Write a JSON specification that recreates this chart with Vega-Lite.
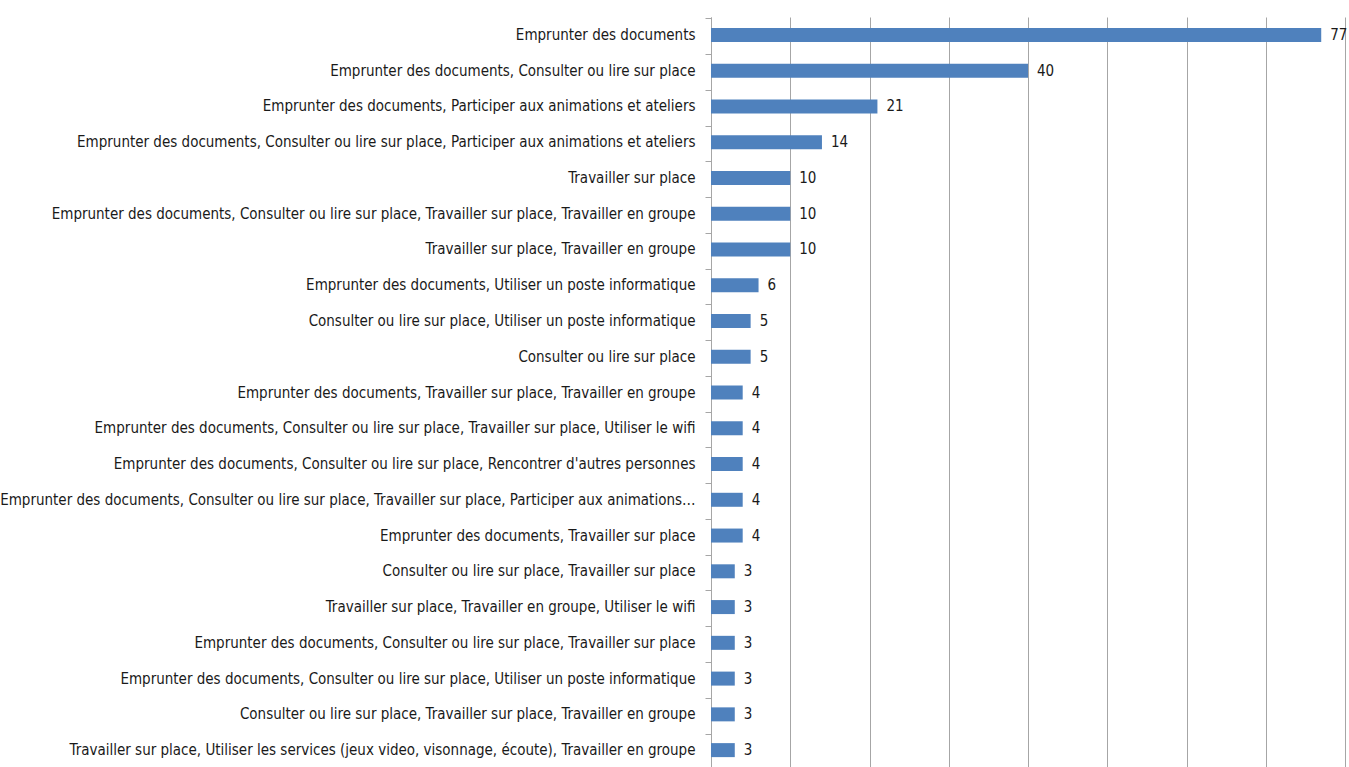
{
  "$schema": "https://vega.github.io/schema/vega-lite/v6.json",
  "autosize": {"type": "none"},
  "width": 634,
  "height": 751,
  "padding": {"left": 711, "top": 17, "right": 4, "bottom": 0},
  "background": "white",
  "config": {"view": {"stroke": null}},
  "data": {"values": [
    {"cat": "Emprunter des documents", "n": 77},
    {"cat": "Emprunter des documents, Consulter ou lire sur place", "n": 40},
    {"cat": "Emprunter des documents, Participer aux animations et ateliers", "n": 21},
    {"cat": "Emprunter des documents, Consulter ou lire sur place, Participer aux animations et ateliers", "n": 14},
    {"cat": "Travailler sur place", "n": 10},
    {"cat": "Emprunter des documents, Consulter ou lire sur place, Travailler sur place, Travailler en groupe", "n": 10},
    {"cat": "Travailler sur place, Travailler en groupe", "n": 10},
    {"cat": "Emprunter des documents, Utiliser un poste informatique", "n": 6},
    {"cat": "Consulter ou lire sur place, Utiliser un poste informatique", "n": 5},
    {"cat": "Consulter ou lire sur place", "n": 5},
    {"cat": "Emprunter des documents, Travailler sur place, Travailler en groupe", "n": 4},
    {"cat": "Emprunter des documents, Consulter ou lire sur place, Travailler sur place, Utiliser le wifi", "n": 4},
    {"cat": "Emprunter des documents, Consulter ou lire sur place, Rencontrer d'autres personnes", "n": 4},
    {"cat": "Emprunter des documents, Consulter ou lire sur place, Travailler sur place, Participer aux animations…", "n": 4},
    {"cat": "Emprunter des documents, Travailler sur place", "n": 4},
    {"cat": "Consulter ou lire sur place, Travailler sur place", "n": 3},
    {"cat": "Travailler sur place, Travailler en groupe, Utiliser le wifi", "n": 3},
    {"cat": "Emprunter des documents, Consulter ou lire sur place, Travailler sur place", "n": 3},
    {"cat": "Emprunter des documents, Consulter ou lire sur place, Utiliser un poste informatique", "n": 3},
    {"cat": "Consulter ou lire sur place, Travailler sur place, Travailler en groupe", "n": 3},
    {"cat": "Travailler sur place, Utiliser les services (jeux video, visonnage, écoute), Travailler en groupe", "n": 3}
  ]},
  "layer": [
    {
      "mark": {"type": "bar", "color": "#4F81BD", "size": 14},
      "encoding": {
        "y": {"field": "cat", "type": "nominal", "sort": null, "title": null,
          "axis": {"labelFont": "DejaVu Sans Condensed", "labelFontSize": 15, "labelColor": "#1a1a1a",
            "labelLimit": 720, "labelPadding": 16, "ticks": false, "domain": true, "domainColor": "#a6a6a6", "domainWidth": 1}},
        "x": {"field": "n", "type": "quantitative", "scale": {"domain": [0, 80], "nice": false}, "title": null,
          "axis": {"labels": false, "ticks": false, "domain": false, "values": [0,10,20,30,40,50,60,70,80], "grid": true, "gridColor": "#a6a6a6", "gridWidth": 1}}
      }
    },
    {
      "mark": {"type": "text", "align": "left", "baseline": "middle", "dx": 9, "font": "DejaVu Sans Condensed", "fontSize": 15, "color": "#1a1a1a"},
      "encoding": {
        "y": {"field": "cat", "type": "nominal", "sort": null, "title": null,
          "axis": {"orient": "left", "labels": false, "ticks": true, "tickSize": 6, "tickColor": "#a6a6a6", "bandPosition": 0, "domain": false}},
        "x": {"field": "n", "type": "quantitative", "title": null,
          "axis": {"labels": false, "ticks": false, "domain": false, "values": [0,10,20,30,40,50,60,70,80], "grid": true, "gridColor": "#a6a6a6", "gridWidth": 1}},
        "text": {"field": "n", "type": "quantitative"}
      }
    }
  ],
  "resolve": {"axis": {"y": "independent"}}
}
